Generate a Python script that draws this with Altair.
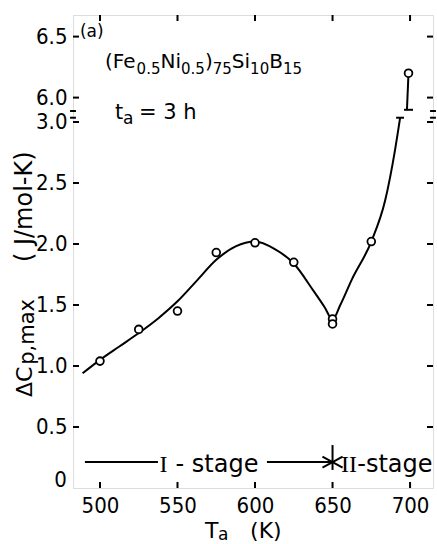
import altair as alt
import pandas as pd

# ---- measured data (annealing temperature T_a in K, Delta Cp,max in J/mol-K)
T_pts = [500, 525, 550, 575, 600, 625, 650, 650, 675, 699]
cp_pts = [1.04, 1.30, 1.45, 1.93, 2.01, 1.85, 1.385, 1.345, 2.02, 6.20]

# ---- smooth guide curve (lower branch below the break)
fit_T = [488.8, 500, 512.5, 525, 537.5, 550, 562.5, 575, 587.5, 600, 612.5,
         625, 637.5, 645, 650, 655, 662.5, 675, 684, 690.3, 693.6]
fit_cp = [0.94, 1.05, 1.16, 1.27, 1.39, 1.53, 1.70, 1.87, 1.98, 2.02, 1.96,
          1.84, 1.62, 1.48, 1.38, 1.50, 1.71, 2.02, 2.36, 2.77, 3.035]
# upper branch above the axis break
up_T = [698, 699]
up_cp = [5.90, 6.20]

# ---- axis definition (broken axis: values above the break are shifted down by 2.8)
BREAK_SHIFT = 2.8
x_ticks = [500, 550, 600, 650, 700]
y_ticks = [0.5, 1.0, 1.5, 2.0, 2.5, 3.0, 3.2, 3.7]  # 3.2 -> 6.0, 3.7 -> 6.5
X_DOM = [482.6, 714.8]
Y_DOM = [0, 3.877]

FONT = "DejaVu Sans"
TICKFONT = "DejaVu Sans Condensed, DejaVu Sans"
SERIF = "Liberation Serif"

W, H = 360, 473

pts = pd.DataFrame({"T": T_pts, "cp": cp_pts})
fit = pd.DataFrame({"T": fit_T + up_T, "cp": fit_cp + up_cp,
                    "seg": ["low"] * len(fit_T) + ["up"] * len(up_T)})

xs = alt.Scale(domain=X_DOM, nice=False, zero=False)
ys = alt.Scale(domain=Y_DOM, nice=False, zero=False)

ycalc = f"datum.cp > 3.1 ? datum.cp - {BREAK_SHIFT} : datum.cp"

base_x_axis = alt.Axis(values=x_ticks, ticks=False, domain=False, grid=False, title=None,
                       labelFont=TICKFONT, labelFontSize=22, labelPadding=7,
                       labelColor="black")
base_y_axis = alt.Axis(values=y_ticks, ticks=False, domain=False, grid=False, title=None,
                       labelFont=TICKFONT, labelFontSize=22, labelPadding=6,
                       labelColor="black",
                       labelExpr=f"datum.value > 3.1 ? format(datum.value + {BREAK_SHIFT}, '.1f') : format(datum.value, '.1f')")

curve = alt.Chart(fit).transform_calculate(v=ycalc).mark_line(
    color="black", strokeWidth=2, interpolate="monotone").encode(
    x=alt.X("T:Q", scale=xs, axis=base_x_axis),
    y=alt.Y("v:Q", scale=ys, axis=base_y_axis),
    detail="seg:N")

points = alt.Chart(pts).transform_calculate(v=ycalc).mark_point(
    shape="circle", filled=False, fill="white", fillOpacity=1, color="black",
    strokeWidth=1.8, size=60, opacity=1).encode(
    x=alt.X("T:Q", scale=xs), y=alt.Y("v:Q", scale=ys))

# ---- inward tick marks on all four sides
ytk = pd.DataFrame({"v": y_ticks})
xtk = pd.DataFrame({"T": x_ticks})
tick_layers = [
    alt.Chart(ytk).mark_rule(color="black", strokeWidth=2).encode(
        y=alt.Y("v:Q", scale=ys), x=alt.value(0), x2=alt.value(6)),
    alt.Chart(ytk).mark_rule(color="black", strokeWidth=2).encode(
        y=alt.Y("v:Q", scale=ys), x=alt.value(W), x2=alt.value(W - 6)),
    alt.Chart(xtk).mark_rule(color="black", strokeWidth=2).encode(
        x=alt.X("T:Q", scale=xs), y=alt.value(H), y2=alt.value(H - 6)),
    alt.Chart(xtk).mark_rule(color="black", strokeWidth=2).encode(
        x=alt.X("T:Q", scale=xs), y=alt.value(0), y2=alt.value(6)),
]

# ---- line segments: stage arrows, break marks
seg_x1 = [490.3, 607.7, 643.5, 643.5, 650.0, 650.0, 650.0,
          691.0, 696.1, 480.7, 480.7, 712.9, 712.9]
seg_y1 = [0.213, 0.213, 0.258, 0.168, 0.352, 0.213, 0.213,
          3.035, 3.100, 3.090, 3.035, 3.090, 3.035]
seg_x2 = [537.4, 650.0, 650.0, 650.0, 650.0, 656.5, 656.5,
          696.1, 701.9, 484.5, 484.5, 716.7, 716.7]
seg_y2 = [0.213, 0.213, 0.213, 0.213, 0.148, 0.258, 0.168,
          3.035, 3.100, 3.090, 3.035, 3.090, 3.035]
segs = pd.DataFrame({"x1": seg_x1, "y1": seg_y1, "x2": seg_x2, "y2": seg_y2})
seg_layer = alt.Chart(segs).mark_rule(color="black", strokeWidth=2).encode(
    x=alt.X("x1:Q", scale=xs), y=alt.Y("y1:Q", scale=ys),
    x2="x2:Q", y2="y2:Q")

# ---- text annotations: (text, T, v, size, font, align, angle)
ann = [
    ("(a)", 487.1, 3.697, 17, FONT, "left", 0),
    ("(Fe", 503.24, 3.443, 20, FONT, "left", 0),
    ("0.5", 523.62, 3.393, 15, FONT, "left", 0),
    ("Ni", 539.04, 3.443, 20, FONT, "left", 0),
    ("0.5", 552.26, 3.393, 15, FONT, "left", 0),
    (")", 567.68, 3.443, 20, FONT, "left", 0),
    ("75", 572.71, 3.393, 15, FONT, "left", 0),
    ("Si", 585.03, 3.443, 20, FONT, "left", 0),
    ("10", 596.83, 3.393, 15, FONT, "left", 0),
    ("B", 609.15, 3.443, 20, FONT, "left", 0),
    ("15", 617.99, 3.393, 15, FONT, "left", 0),
    ("t", 509.7, 3.025, 21, FONT, "left", 0),
    ("a", 514.9, 2.984, 17, FONT, "left", 0),
    ("= 3 h", 525.2, 3.025, 21, FONT, "left", 0),
    ("I", 541.0, 0.131, 24, SERIF, "center", 0),
    ("- stage", 575.5, 0.131, 24, FONT, "center", 0),
    ("II", 665.8, 0.131, 24, SERIF, "right", 0),
    ("-stage", 714.5, 0.131, 24, FONT, "right", 0),
    ("0", 478.7, 0.008, 22, TICKFONT, "right", 0),
    ("T", 567.7, -0.41, 22, FONT, "left", 0),
    ("a", 576.1, -0.43, 17, FONT, "left", 0),
    ("(K)", 596.8, -0.41, 22, FONT, "left", 0),
    ("ΔC", 456.2, 0.746, 22, FONT, "left", 270),
    ("p,max", 457.6, 1.01, 21, FONT, "left", 270),
    ("( J/mol-K)", 456.2, 1.852, 24, FONT, "left", 270),
]

text_layers = []
for txt, tx, ty, fs, fnt, al, ang in ann:
    d = pd.DataFrame({"T": [tx], "v": [ty], "label": [txt]})
    mk = dict(color="black", fontSize=fs, font=fnt, align=al, baseline="alphabetic")
    if ang:
        mk["angle"] = ang
    text_layers.append(alt.Chart(d).mark_text(**mk).encode(
        x=alt.X("T:Q", scale=xs), y=alt.Y("v:Q", scale=ys), text="label:N"))

chart = alt.layer(curve, points, seg_layer, *tick_layers, *text_layers).properties(
    width=W, height=H,
    padding={"left": 73, "top": 15, "right": 4, "bottom": 56},
    autosize=alt.AutoSizeParams(type="none"),
).configure_view(stroke="black", strokeWidth=2).configure(background="white")

chart.save("out.html", embed_options={"renderer": "svg", "actions": False})
